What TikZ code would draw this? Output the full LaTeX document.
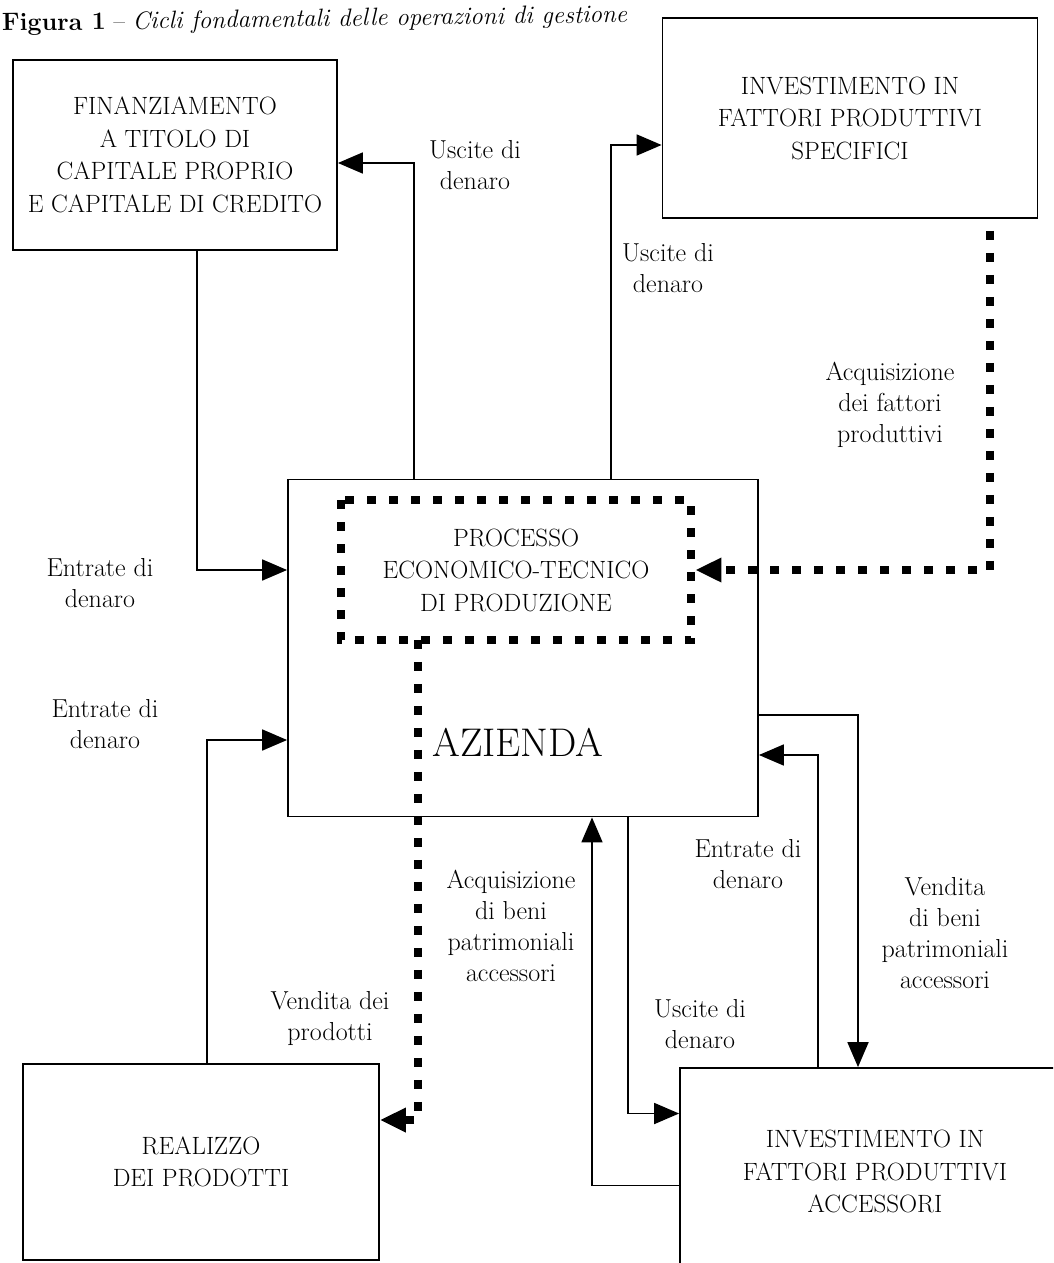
\documentclass[tikz,border=0pt]{standalone}
\usepackage{fontspec}
\usetikzlibrary{arrows.meta,calc}
\begin{document}
\begin{tikzpicture}[x=1pt,y=-1pt,
  box/.style={draw, line width=1.8pt, align=center, inner sep=0pt,
    font=\fontsize{25}{32.5}\selectfont},
  lbl/.style={align=center, inner sep=0pt, font=\fontsize{26}{31}\selectfont},
  arr/.style={line width=1.8pt, -{Triangle[length=25pt,width=21pt]}},
  dots/.style={line width=8pt, dash pattern=on 9pt off 13pt},
  dotarr/.style={dots, -{Triangle[length=26pt,width=23pt]}}]
\useasboundingbox (0,0) rectangle (1053,1263);
\clip (0,0) rectangle (1053,1263);
\fill[white] (0,0) rectangle (1053,1263);

% title
\node[anchor=base west, rotate=0.8, inner sep=0pt, font=\fontsize{25}{28}\selectfont]
  (title) at (2,31) {\textbf{Figura 1} -- \textit{Cicli fondamentali delle operazioni di gestione}};

% boxes
\node[box, minimum width=324pt, minimum height=190pt] (fin) at (175,155)
  {FINANZIAMENTO\\A TITOLO DI\\CAPITALE PROPRIO\\E CAPITALE DI CREDITO};
\node[box, minimum width=375pt, minimum height=200pt] (spec) at (850,118)
  {INVESTIMENTO IN\\FATTORI PRODUTTIVI\\SPECIFICI};
\node[box, minimum width=470pt, minimum height=337pt] (az) at (523,648) {};
\node[box, draw=none, minimum width=349pt, minimum height=138pt] (proc) at (516,570)
  {PROCESSO\\ECONOMICO-TECNICO\\DI PRODUZIONE};
\draw[dots] (proc.north west) rectangle (proc.south east);
\node[inner sep=0pt, font=\fontsize{40}{44}\selectfont] (azl) at (518,742) {AZIENDA};
\node[box, minimum width=356pt, minimum height=196pt] (real) at (201,1162)
  {REALIZZO\\DEI PRODOTTI};
\node[box, minimum width=390pt, minimum height=207pt] (acc) at (875,1171.5)
  {INVESTIMENTO IN\\FATTORI PRODUTTIVI\\ACCESSORI};

% connectors
\draw[arr] ([xshift=127pt]az.north west) |- ([yshift=-8pt]fin.east);
\draw[arr] ([xshift=22pt]fin.south) |- ([yshift=78pt]az.west);
\draw[arr] ([xshift=324pt]az.north west) |- ([yshift=-27pt]spec.west);
\draw[dotarr] ([xshift=140pt,yshift=-12pt]spec.south) |- ([xshift=4pt]proc.east);
\draw[dotarr] ([xshift=-98pt]proc.south) |- ([yshift=42pt]real.east);
\draw[arr] ([xshift=6pt]real.north) |- ([yshift=-92pt]az.west);
\draw[arr] ([xshift=105pt]az.south) |- ([yshift=58pt]acc.west);
\draw[arr] ([yshift=-14pt]acc.west) -| ([xshift=69pt]az.south);
\draw[arr] ([yshift=-67pt]az.east) -| ([xshift=-17pt]acc.north);
\draw[arr] ([xshift=-57pt]acc.north) |- ([yshift=-107pt]az.east);

% labels
\node[lbl] (l1) at (475,165) {Uscite di\\denaro};
\node[lbl] (l2) at (100,583) {Entrate di\\denaro};
\node[lbl] (l3) at (668,268) {Uscite di\\denaro};
\node[lbl] (l4) at (890,405) {Acquisizione\\dei fattori\\produttivi};
\node[lbl] (l5) at (105,724) {Entrate di\\denaro};
\node[lbl] (l6) at (511,926) {Acquisizione\\di beni\\patrimoniali\\accessori};
\node[lbl] (l7) at (330,1018) {Vendita dei\\prodotti};
\node[lbl] (l8) at (748,864) {Entrate di\\denaro};
\node[lbl] (l9) at (700,1024) {Uscite di\\denaro};
\node[lbl] (l10) at (945,933) {Vendita\\di beni\\patrimoniali\\accessori};
\end{tikzpicture}
\end{document}
